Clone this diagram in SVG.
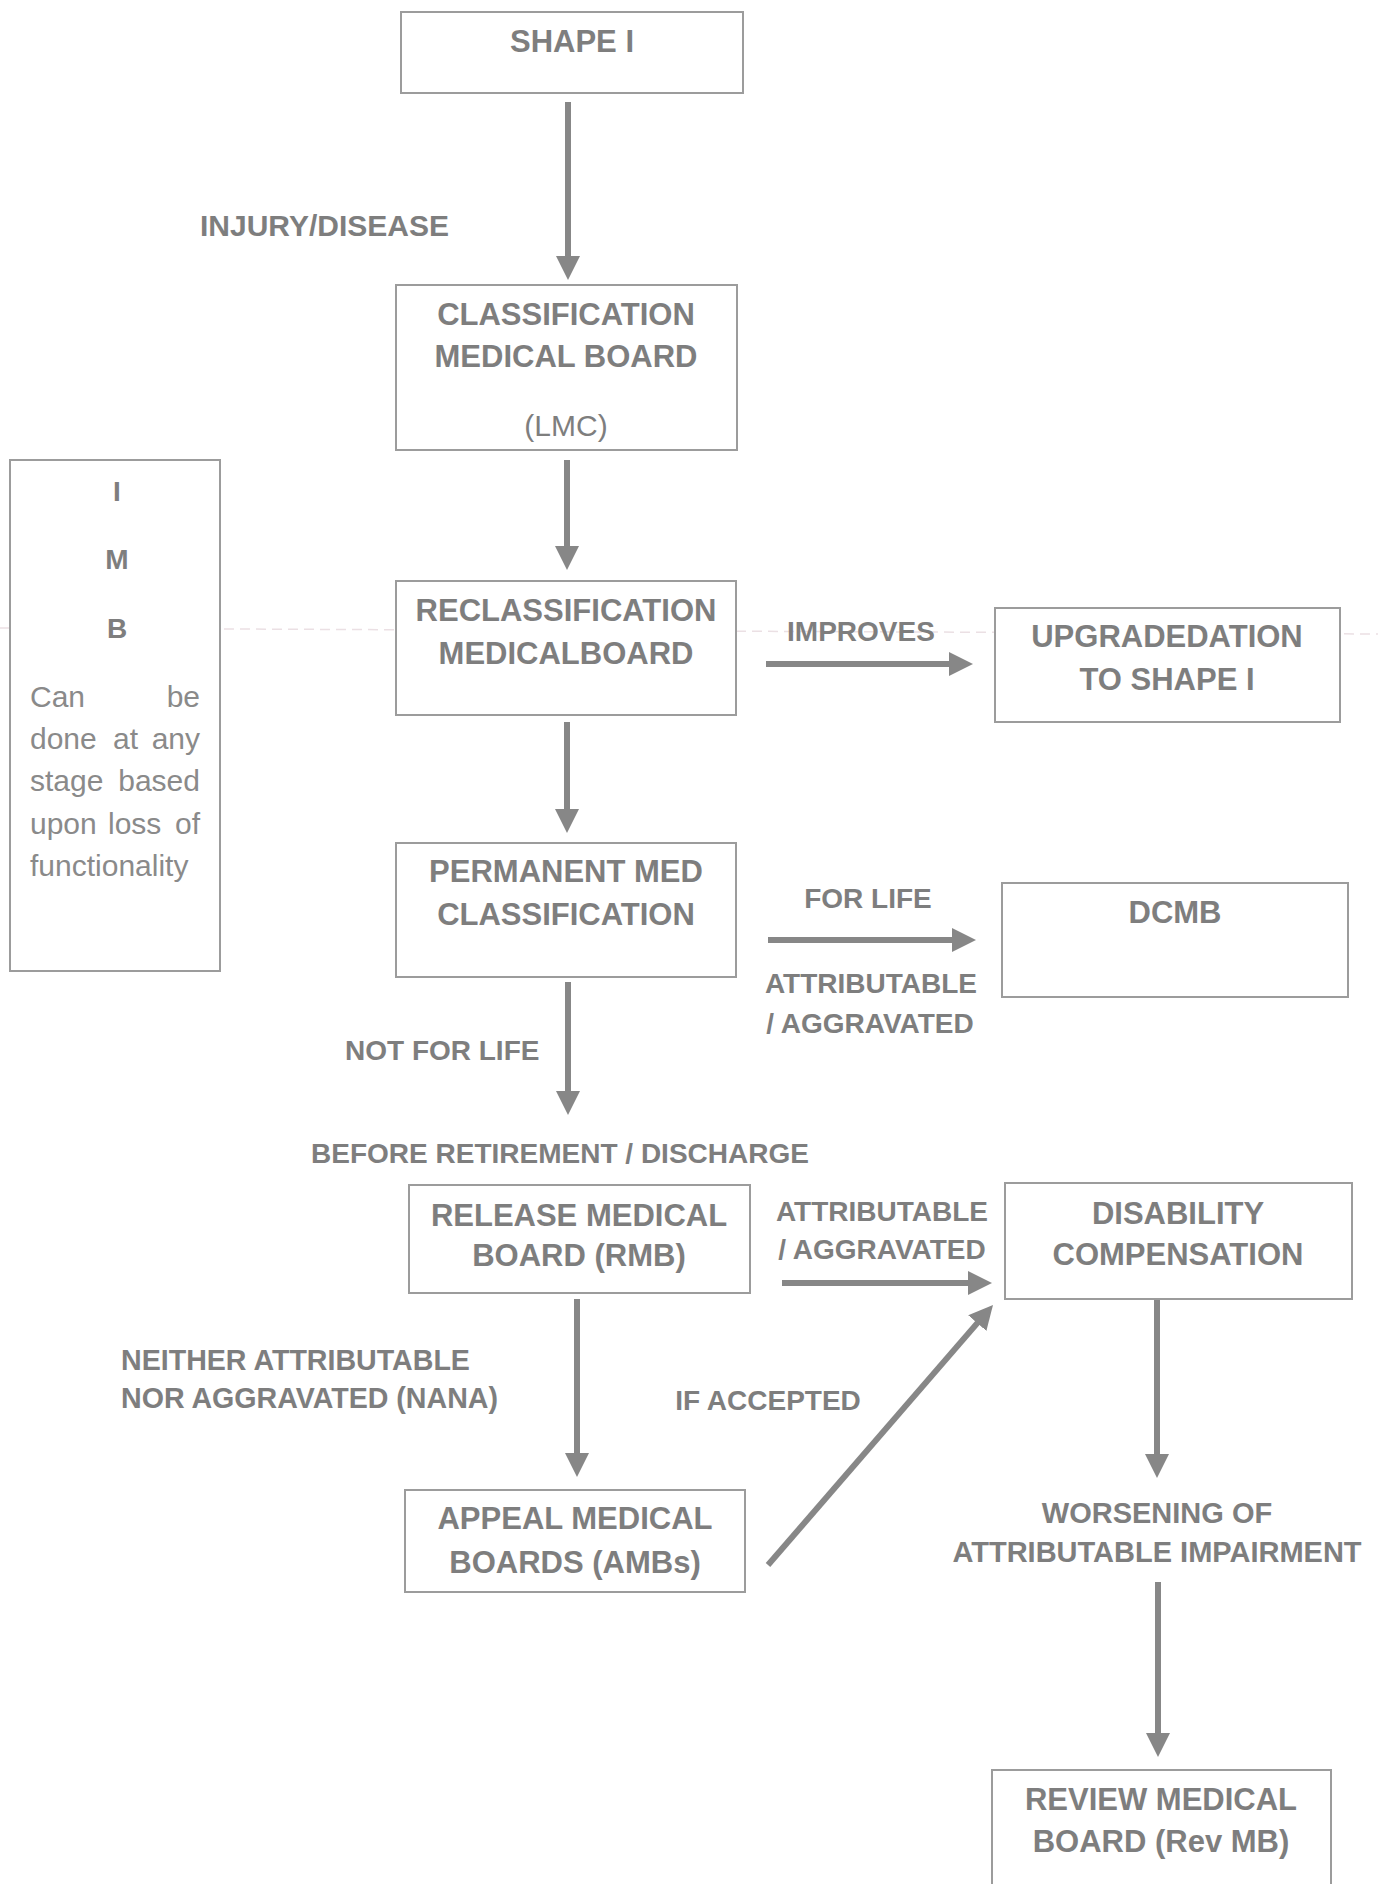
<svg xmlns="http://www.w3.org/2000/svg" width="1378" height="1884" viewBox="0 0 1378 1884">
<style>
.box{fill:#ffffff;stroke:#9c9c9c;stroke-width:2}
.nt{font-family:"Liberation Sans",Arial,sans-serif;font-weight:bold;font-size:31px;fill:#7e7e7e;text-anchor:middle}
.lb{font-family:"Liberation Sans",Arial,sans-serif;font-weight:bold;font-size:28px;fill:#7e7e7e}
.mid{text-anchor:middle}
.pt{font-family:"Liberation Sans",Arial,sans-serif;font-size:30px;fill:#8a8a8a}
.cn{stroke:#878787;stroke-width:6;fill:none}
</style>
<defs>
<marker id="ah" markerUnits="userSpaceOnUse" markerWidth="26" markerHeight="26" refX="2" refY="12" orient="auto">
<path d="M0,0 L24,12 L0,24 z" fill="#878787"/>
</marker>
</defs>
<rect width="1378" height="1884" fill="#ffffff"/>
<line x1="0" y1="628" x2="1378" y2="634" stroke="#ebe0e4" stroke-width="1.5" stroke-dasharray="10 6"/>

<g id="connectors">
<line class="cn" x1="568" y1="102" x2="568" y2="258" marker-end="url(#ah)"/>
<line class="cn" x1="567" y1="460" x2="567" y2="548" marker-end="url(#ah)"/>
<line class="cn" x1="567" y1="722" x2="567" y2="811" marker-end="url(#ah)"/>
<line class="cn" x1="568" y1="982" x2="568" y2="1093" marker-end="url(#ah)"/>
<line class="cn" x1="766" y1="664" x2="951" y2="664" marker-end="url(#ah)"/>
<line class="cn" x1="768" y1="940" x2="954" y2="940" marker-end="url(#ah)"/>
<line class="cn" x1="782" y1="1283" x2="970" y2="1283" marker-end="url(#ah)"/>
<line class="cn" x1="577" y1="1299" x2="577" y2="1455" marker-end="url(#ah)"/>
<line class="cn" x1="768" y1="1565" x2="978.6" y2="1321.6" marker-end="url(#ah)"/>
<line class="cn" x1="1157" y1="1300" x2="1157" y2="1456" marker-end="url(#ah)"/>
<line class="cn" x1="1158" y1="1582" x2="1158" y2="1735" marker-end="url(#ah)"/>
</g>

<g id="labels">
<text class="lb" x="200" y="236" style="font-size:30px">INJURY/DISEASE</text>
<text class="lb mid" x="861" y="641">IMPROVES</text>
<text class="lb mid" x="868" y="908">FOR LIFE</text>
<text class="lb mid" x="871" y="993">ATTRIBUTABLE</text>
<text class="lb mid" x="870" y="1033">/ AGGRAVATED</text>
<text class="lb" x="345" y="1060">NOT FOR LIFE</text>
<text class="lb mid" x="560" y="1163">BEFORE RETIREMENT / DISCHARGE</text>
<text class="lb mid" x="882" y="1221">ATTRIBUTABLE</text>
<text class="lb mid" x="882" y="1259">/ AGGRAVATED</text>
<text class="lb" x="121" y="1370" style="font-size:28.6px">NEITHER ATTRIBUTABLE</text>
<text class="lb" x="121" y="1408" style="font-size:28.6px">NOR AGGRAVATED (NANA)</text>
<text class="lb mid" x="768" y="1410">IF ACCEPTED</text>
<text class="lb mid" x="1157" y="1523" style="font-size:29px">WORSENING OF</text>
<text class="lb mid" x="1157" y="1562" style="font-size:29px">ATTRIBUTABLE IMPAIRMENT</text>
</g>

<g id="shape1">
<rect class="box" x="401" y="12" width="342" height="81"/>
<text class="nt" x="572" y="52">SHAPE I</text>
</g>

<g id="cmb">
<rect class="box" x="396" y="285" width="341" height="165"/>
<text class="nt" x="566" y="325">CLASSIFICATION</text>
<text class="nt" x="566" y="367">MEDICAL BOARD</text>
<text class="nt" x="566" y="436" style="font-weight:normal;font-size:30px">(LMC)</text>
</g>

<g id="imb">
<rect class="box" x="10" y="460" width="210" height="511"/>
<text class="nt" x="117" y="501" style="font-size:28px">I</text>
<text class="nt" x="117" y="569" style="font-size:28px">M</text>
<text class="nt" x="117" y="638" style="font-size:28px">B</text>
<text class="pt" x="30" y="707">Can</text>
<text class="pt" x="200" y="707" text-anchor="end">be</text>
<text class="pt" x="30" y="749">done</text>
<text class="pt" x="113" y="749">at</text>
<text class="pt" x="200" y="749" text-anchor="end">any</text>
<text class="pt" x="30" y="791">stage</text>
<text class="pt" x="200" y="791" text-anchor="end">based</text>
<text class="pt" x="30" y="834">upon</text>
<text class="pt" x="108" y="834">loss</text>
<text class="pt" x="200" y="834" text-anchor="end">of</text>
<text class="pt" x="30" y="876">functionality</text>
</g>

<g id="reclass">
<rect class="box" x="396" y="581" width="340" height="134"/>
<text class="nt" x="566" y="621">RECLASSIFICATION</text>
<text class="nt" x="566" y="664">MEDICALBOARD</text>
</g>

<g id="upgrade">
<rect class="box" x="995" y="608" width="345" height="114"/>
<text class="nt" x="1167" y="647">UPGRADEDATION</text>
<text class="nt" x="1167" y="690">TO SHAPE I</text>
</g>

<g id="permanent">
<rect class="box" x="396" y="843" width="340" height="134"/>
<text class="nt" x="566" y="882">PERMANENT MED</text>
<text class="nt" x="566" y="925">CLASSIFICATION</text>
</g>

<g id="dcmb">
<rect class="box" x="1002" y="883" width="346" height="114"/>
<text class="nt" x="1175" y="923">DCMB</text>
</g>

<g id="rmb">
<rect class="box" x="409" y="1185" width="341" height="108"/>
<text class="nt" x="579" y="1226">RELEASE MEDICAL</text>
<text class="nt" x="579" y="1266">BOARD (RMB)</text>
</g>

<g id="disability">
<rect class="box" x="1005" y="1183" width="347" height="116"/>
<text class="nt" x="1178" y="1224">DISABILITY</text>
<text class="nt" x="1178" y="1265">COMPENSATION</text>
</g>

<g id="amb">
<rect class="box" x="405" y="1490" width="340" height="102"/>
<text class="nt" x="575" y="1529">APPEAL MEDICAL</text>
<text class="nt" x="575" y="1573">BOARDS (AMBs)</text>
</g>

<g id="revmb">
<rect class="box" x="992" y="1770" width="339" height="130"/>
<text class="nt" x="1161" y="1810">REVIEW MEDICAL</text>
<text class="nt" x="1161" y="1852">BOARD (Rev MB)</text>
</g>
</svg>
